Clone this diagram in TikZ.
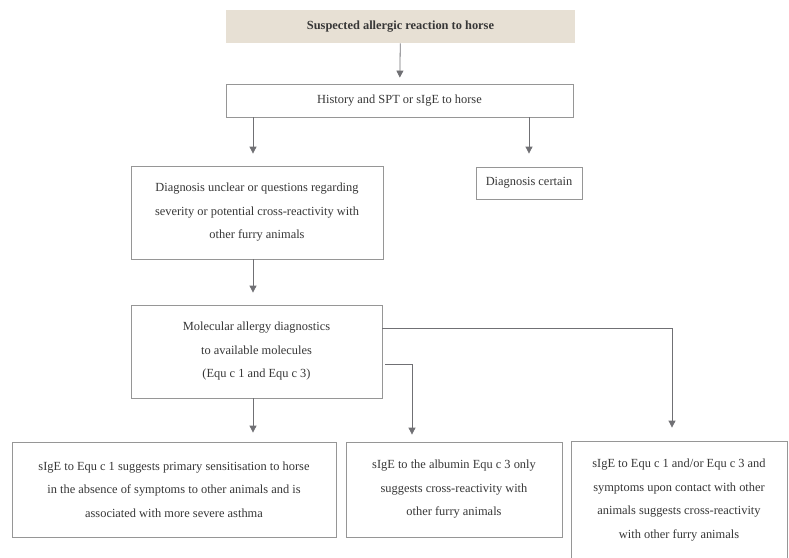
\documentclass[tikz,border=0pt]{standalone}
\usepackage{fontspec}
\setmainfont{Liberation Serif}
\usetikzlibrary{positioning,arrows.meta}
\definecolor{horsebeige}{RGB}{231,224,212}
\definecolor{horsegray}{RGB}{112,112,116}
\definecolor{horseframe}{RGB}{150,150,150}
\definecolor{horsetext}{RGB}{55,55,55}

\begin{document}
\begin{tikzpicture}[x=1pt, y=-1pt,
  box/.style={draw=horseframe, line width=0.8pt, fill=white, text=horsetext, font=\fontsize{12.4}{23.5}\selectfont, align=center, inner sep=0pt},
  head/.style={box, draw=none, fill=horsebeige, font=\fontsize{12.4}{23.5}\selectfont\bfseries},
  arrow/.style={-{Triangle[length=7pt,width=7pt]}, line width=0.8pt, horsegray}
]
  \useasboundingbox (0,0) rectangle (789,557);
  \clip (0,0) rectangle (789,557);

  \node[head, minimum width=349pt, minimum height=33pt] (suspect) at (400.5,26.5) {Suspected allergic reaction to horse};
  \node[box, minimum width=347pt, minimum height=33pt] (history) at (399.5,100.5) {History and SPT or sIgE to horse};
  \node[box, minimum width=252pt, minimum height=93pt] (unclear) at (257,212.5) {Diagnosis unclear or questions regarding\\severity or potential cross-reactivity with\\other furry animals};
  \node[box, minimum width=106pt, minimum height=32pt] (certain) at (529,183) {Diagnosis certain};
  \node[box, minimum width=251pt, minimum height=93pt] (molecular) at (256.5,351.5) {Molecular allergy diagnostics\\to available molecules\\(Equ c 1 and Equ c 3)};
  \node[box, minimum width=324pt, minimum height=95pt] (equone) at (174,489.5) {sIgE to Equ c 1 suggests primary sensitisation to horse\\in the absence of symptoms to other animals and is\\associated with more severe asthma};
  \node[box, minimum width=216pt, minimum height=95pt] (equthree) at (454,489.5) {sIgE to the albumin Equ c 3 only\\suggests cross-reactivity with\\other furry animals};
  \node[box, minimum width=216pt, minimum height=118pt] (crossreact) at (679,500) {sIgE to Equ c 1 and/or Equ c 3 and\\symptoms upon contact with other\\animals suggests cross-reactivity\\with other furry animals};

  \coordinate (leftx) at ([xshift=-4pt]unclear.north);

  \draw[arrow, shorten >=6pt] (suspect) -- (history);
  \draw[arrow, shorten >=12pt] (history.south -| leftx) -- (leftx);
  \draw[arrow, shorten >=13pt] (history.south -| certain.north) -- (certain.north);
  \draw[arrow, shorten >=12pt] (unclear.south -| leftx) -- (molecular.north -| leftx);
  \draw[arrow, shorten >=9pt] (molecular.south -| leftx) -- (equone.north -| leftx);
  \draw[arrow, shorten >=7pt] ([shift={(3,12.5)}]molecular.east) -| ([xshift=-42pt]equthree.north);
  \draw[arrow, shorten >=13pt] ([yshift=23.5pt]molecular.east) -| ([xshift=-7pt]crossreact.north);
\end{tikzpicture}
\end{document}
